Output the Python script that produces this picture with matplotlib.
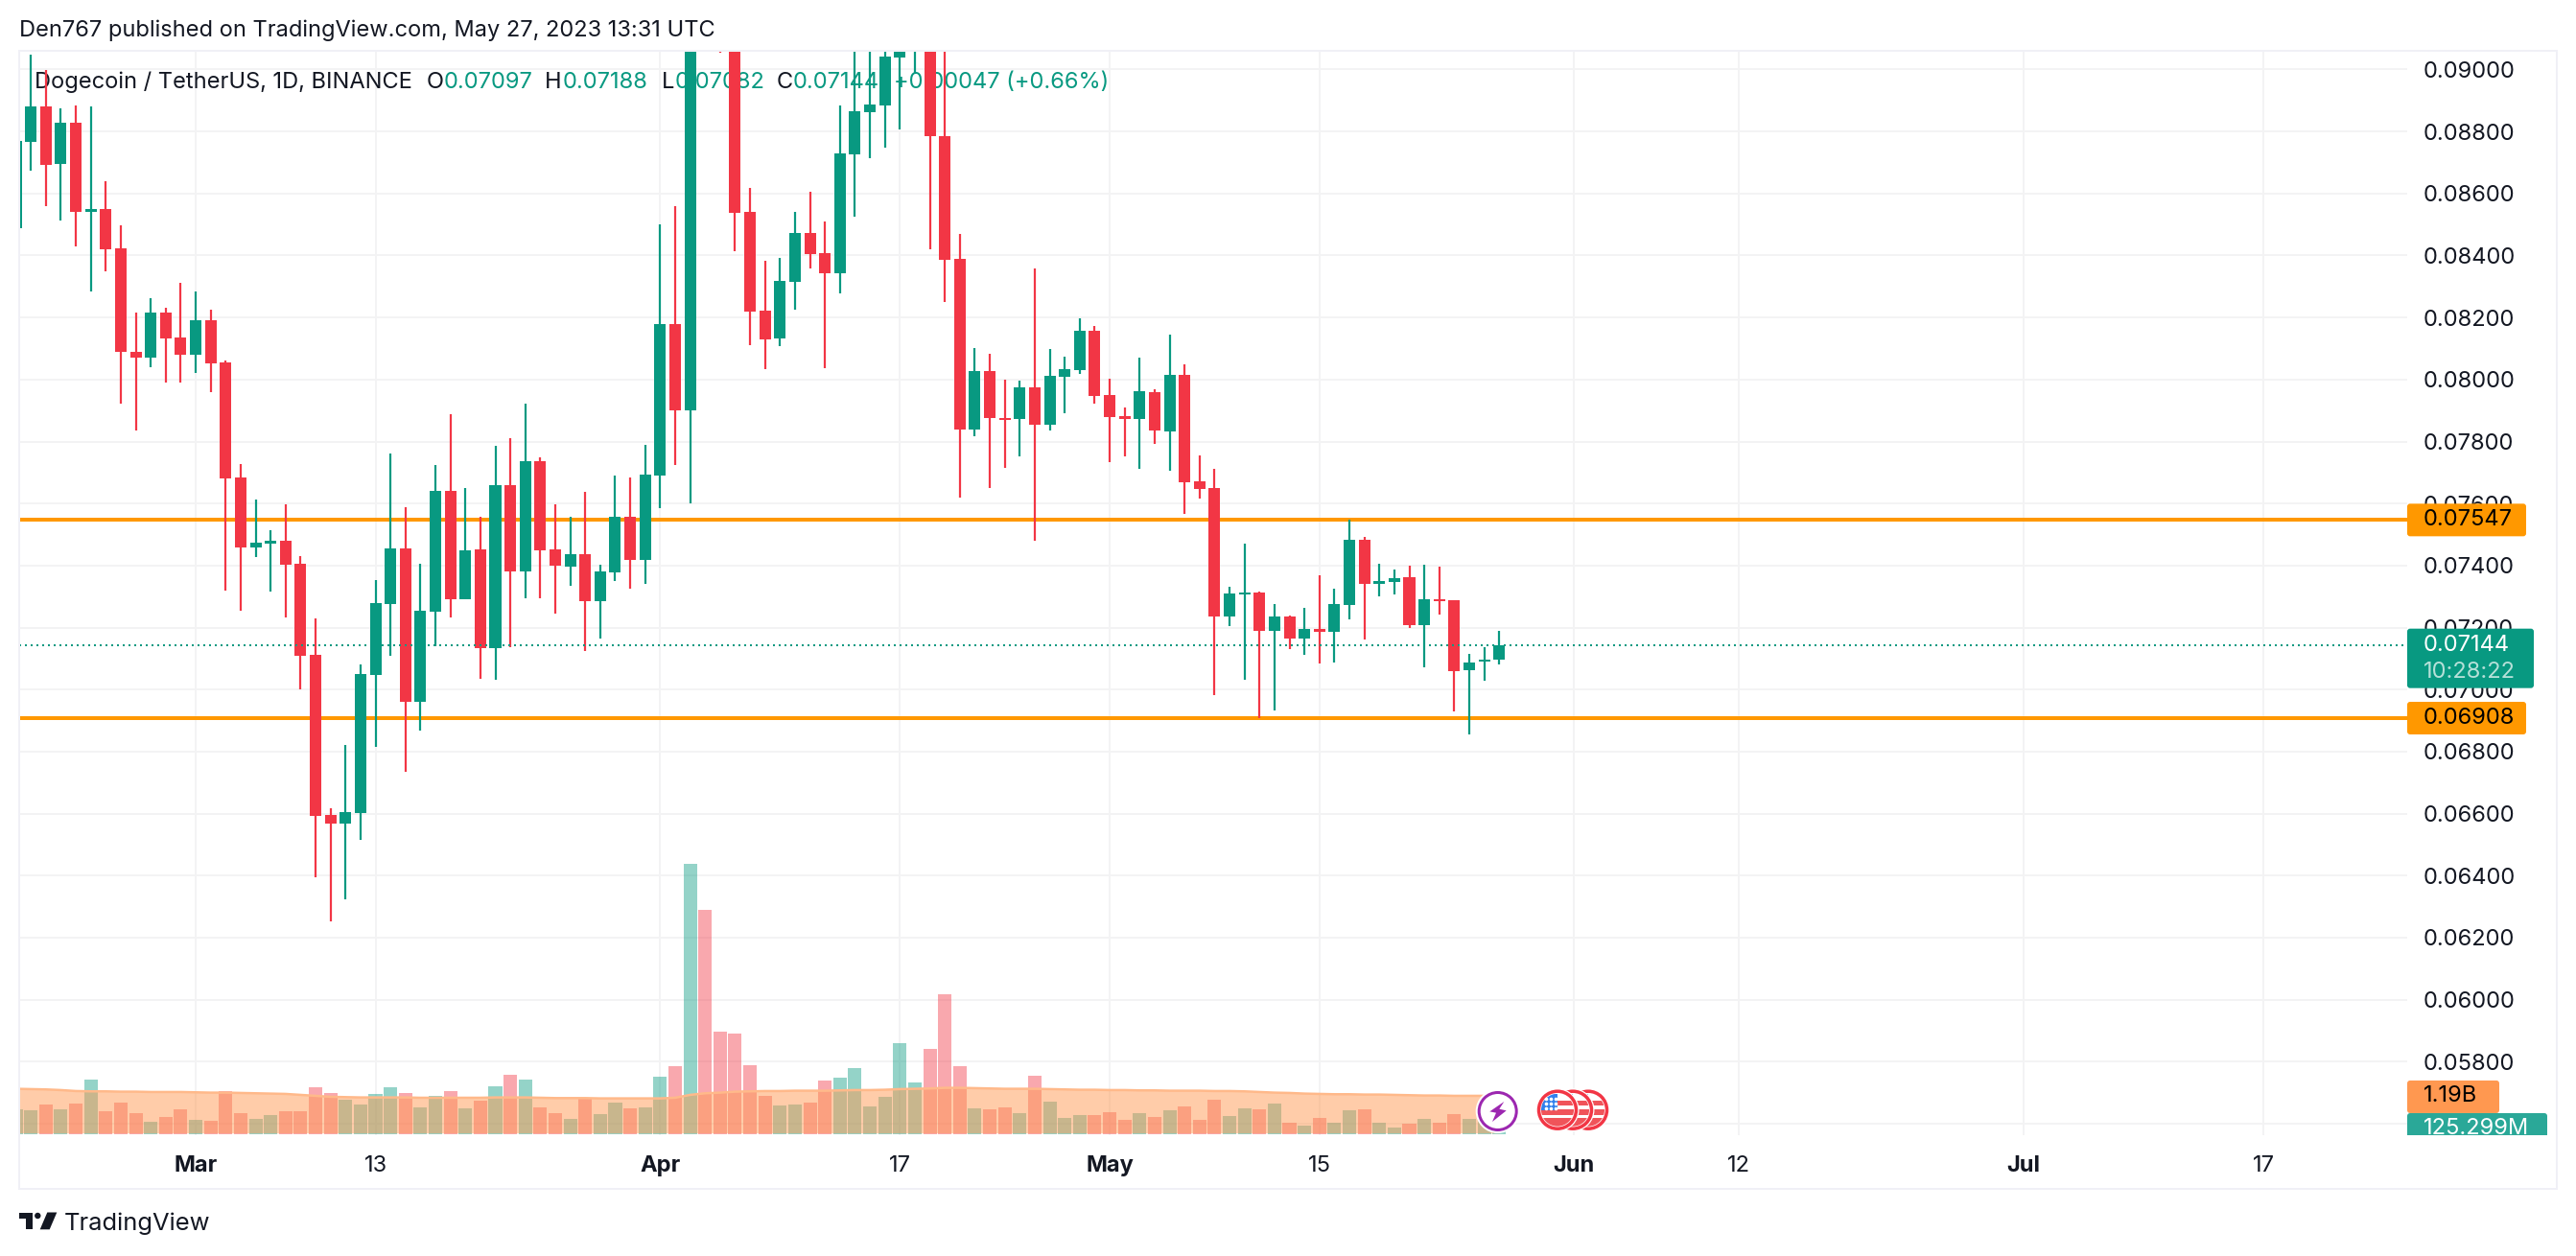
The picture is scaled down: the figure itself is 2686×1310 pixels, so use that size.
import numpy as np
import pandas as pd
import matplotlib
matplotlib.use('Agg')
import matplotlib.pyplot as plt
import matplotlib.dates as mdates
from matplotlib.patches import Circle, FancyBboxPatch, Polygon, Rectangle
from matplotlib.transforms import Affine2D

W, H = 2686, 1310
GREEN = '#089981'
RED = '#F23645'
ORANGE = '#FF9800'
INK = '#131722'
GRID = '#F3F3F4'
BORDER = '#F0F0F6'

plt.rcParams['font.family'] = ['Inter', 'DejaVu Sans']

# daily candles, Feb 17 to May 27 2023
dates = pd.date_range('2023-02-17', '2023-05-27', freq='D')

opens = [
    .08488, .08767, .08881, .08695, .08828, .08541, .08550, .08423, .08089, .08071, .08216, .08136,
    .08080, .08191, .08055, .07684, .07458, .07471, .07480, .07406, .07112, .06596, .06568, .06602,
    .07047, .07276, .07455, .06960, .07251, .07641, .07291, .07452, .07134, .07659, .07381, .07737,
    .07452, .07396, .07437, .07285, .07378, .07557, .07418,
    .07690, .08179, .07900, .09550, .09300, .09180, .08541, .08222, .08132, .08315, .08473, .08408,
    .08343, .08726, .08862, .08884, .09039, .09150, .09250, .08785, .08389, .07839, .08027, .07876,
    .07873, .07975, .07854, .08009, .08030, .08157,
    .07950, .07882, .07873, .07959, .07832, .08015, .07672, .07650, .07236, .07307, .07313, .07189,
    .07236, .07165, .07195, .07186, .07273, .07483, .07341, .07347, .07362, .07208, .07291, .07288,
    .07062, .07090, .07097,
]
highs = [
    .08850, .09048, .08999, .08875, .08884, .08881, .08640, .08497, .08216, .08262, .08231, .08312,
    .08284, .08225, .08061, .07727, .07613, .07514, .07598, .07431, .07229, .06617, .06821, .07081,
    .07353, .07761, .07588, .07406, .07724, .07888, .07650, .07557, .07786, .07811, .07922, .07749,
    .07598, .07557, .07638, .07403, .07690, .07684, .07789,
    .08500, .08559, .09850, .09850, .09450, .09250, .08618, .08383, .08392, .08541, .08606, .08510,
    .08884, .09150, .09120, .09250, .09300, .09350, .09300, .09100, .08469, .08101, .08083, .08000,
    .07996, .08358, .08098, .08074, .08197, .08173,
    .08003, .07910, .08071, .07969, .08145, .08049, .07755, .07712, .07332, .07471, .07316, .07276,
    .07239, .07263, .07369, .07325, .07548, .07492, .07406, .07387, .07400, .07403, .07396, .07288,
    .07115, .07137, .07188,
]
lows = [
    .08400, .08674, .08559, .08513, .08429, .08284, .08349, .07922, .07836, .08040, .07990, .07990,
    .08021, .07959, .07319, .07254, .07427, .07316, .07233, .07001, .06395, .06252, .06323, .06515,
    .06815, .07109, .06735, .06868, .07140, .07233, .07291, .07035, .07031, .07137, .07294, .07294,
    .07245, .07335, .07124, .07165, .07350, .07325, .07341,
    .07585, .07724, .07601, .09120, .09055, .08414, .08111, .08033, .08108, .08225, .08358, .08037,
    .08278, .08525, .08714, .08748, .08807, .08986, .08420, .08250, .07619, .07817, .07650, .07715,
    .07752, .07480, .07836, .07891, .08018, .07922,
    .07734, .07752, .07712, .07792, .07706, .07566, .07616, .06982, .07205, .07031, .06908, .06933,
    .07131, .07112, .07084, .07087, .07226, .07161, .07301, .07307, .07198, .07072, .07242, .06930,
    .06855, .07028, .07082,
]
closes = [
    .08769, .08881, .08692, .08828, .08541, .08550, .08420, .08089, .08071, .08216, .08132, .08080,
    .08191, .08052, .07681, .07458, .07474, .07480, .07403, .07109, .06592, .06568, .06605, .07050,
    .07279, .07455, .06960, .07254, .07641, .07291, .07449, .07134, .07659, .07381, .07737, .07449,
    .07400, .07437, .07285, .07381, .07557, .07418, .07693,
    .08179, .07900, .09550, .09300, .09180, .08538, .08219, .08129, .08318, .08473, .08405, .08343,
    .08729, .08865, .08887, .09042, .09150, .09250, .08785, .08386, .07839, .08027, .07876, .07869,
    .07975, .07854, .08012, .08033, .08157, .07947,
    .07879, .07873, .07962, .07836, .08015, .07669, .07647, .07236, .07310, .07313, .07189, .07236,
    .07165, .07195, .07186, .07276, .07483, .07341, .07350, .07359, .07208, .07291, .07285, .07059,
    .07087, .07097, .07144,
]

# volume in billions
volume = [
    .77, .74, .92, .77, .95, 1.70, .71, .98, .65, .38, .53, .77,
    .44, .41, 1.34, .65, .47, .59, .71, .71, 1.46, 1.28, 1.07, .92, 1.25, 1.46, 1.28, .83, 1.19, 1.34,
    .80, 1.04, 1.49, 1.85, 1.70, .83, .65, .47, 1.10, .62, .98, .80, .83,
    1.79, 2.12, 8.42, 7.01, 3.20, 3.14, 2.15, 1.19, .89, .92, .98, 1.67, 1.76, 2.06, .86, 1.16, 2.84,
    1.61, 2.66, 4.37, 2.12, .80, .77, .83, .65, 1.82, 1.01, .50, .59, .59,
    .68, .44, .65, .53, .74, .86, .44, 1.07, .56, .80, .77, .95, .35, .26, .50, .35, .74, .77, .35,
    .20, .32, .47, .35, .62, .47, .41, .125,
]
volume_ma = [
    1.41, 1.40, 1.39, 1.37, 1.34, 1.33, 1.33, 1.32, 1.32, 1.31, 1.31, 1.31,
    1.30, 1.29, 1.29, 1.28, 1.27, 1.26, 1.25, 1.22, 1.19, 1.16, 1.15, 1.14, 1.14, 1.14, 1.14, 1.13,
    1.13, 1.13, 1.13, 1.13, 1.14, 1.14, 1.14, 1.13, 1.12, 1.12, 1.12, 1.11, 1.11, 1.11, 1.11,
    1.11, 1.13, 1.22, 1.27, 1.29, 1.32, 1.33, 1.34, 1.34, 1.35, 1.35, 1.35, 1.36, 1.37, 1.37, 1.38,
    1.40, 1.41, 1.42, 1.44, 1.44, 1.43, 1.42, 1.41, 1.41, 1.41, 1.40, 1.39, 1.38, 1.38,
    1.37, 1.37, 1.36, 1.36, 1.35, 1.35, 1.35, 1.34, 1.34, 1.33, 1.31, 1.29, 1.28, 1.26, 1.25, 1.24,
    1.24, 1.23, 1.23, 1.22, 1.21, 1.20, 1.20, 1.19, 1.19, 1.19, 1.19,
]

levels = [0.07547, 0.06908]
last_close = 0.07144

y_ticks = [0.056, 0.058, 0.060, 0.062, 0.064, 0.066, 0.068, 0.070, 0.072, 0.074, 0.076, 0.078,
           0.080, 0.082, 0.084, 0.086, 0.088, 0.090]
x_tick_dates = ['2023-03-01', '2023-03-13', '2023-04-01', '2023-04-17', '2023-05-01', '2023-05-15',
                '2023-06-01', '2023-06-12', '2023-07-01', '2023-07-17']
x_tick_labels = ['Mar', '13', 'Apr', '17', 'May', '15', 'Jun', '12', 'Jul', '17']
bold_labels = ['Mar', 'Apr', 'May', 'Jun', 'Jul']

fig = plt.figure(figsize=(W / 100, H / 100), dpi=100)
px = 0.72  # one pixel in points

pane_l, pane_r, pane_t, pane_b = 20, 2510, 53, 1184
rect = [pane_l / W, 1 - pane_b / H, (pane_r - pane_l) / W, (pane_b - pane_t) / H]

ax = fig.add_axes(rect)
ax_vol = fig.add_axes(rect, sharex=ax)
ax_vol.patch.set_visible(False)
ax_vol.axis('off')

x = mdates.date2num(dates)
o, h, l, c = map(np.array, (opens, highs, lows, closes))
colors = [GREEN if a >= b else RED for a, b in zip(c, o)]

ax.axhline(levels[0], color=ORANGE, lw=4 * px, zorder=2)
ax.axhline(levels[1], color=ORANGE, lw=4 * px, zorder=2)

ax.vlines(x, l, h, colors=colors, lw=2.2 * px, zorder=3)
ax.bar(x, np.abs(c - o), bottom=np.minimum(o, c), width=0.77, color=colors, lw=0, zorder=3)

ax.axhline(last_close, color=GREEN, lw=2 * px, ls=(0, (1, 2)), zorder=4)

mar1 = mdates.date2num(pd.Timestamp('2023-03-01'))
ax.set_xlim(mar1 - 11.78, mar1 + 147.6)
ax.set_ylim(0.05563, 0.09060)

ax.set_axisbelow(True)
ax.grid(True, color=GRID, lw=2 * px, zorder=0)
for s in ax.spines.values():
    s.set_visible(False)

ax.yaxis.tick_right()
ax.set_yticks(y_ticks)
ax.set_yticklabels(['%.5f' % t for t in y_ticks])
ax.tick_params(axis='y', length=0, pad=17 * px, labelsize=17, labelcolor=INK)

ax.set_xticks(mdates.date2num(pd.to_datetime(x_tick_dates)))
ax.set_xticklabels(x_tick_labels)
ax.tick_params(axis='x', length=0, pad=21 * px, labelsize=17, labelcolor=INK)
for t in ax.get_xticklabels():
    if t.get_text() in bold_labels:
        t.set_fontweight('bold')

# volume pane, 33.4 px per billion with the baseline just above the pane bottom
ax_vol.set_ylim(-0.039, 33.82)
ax_vol.bar(x, volume, width=0.9, color=colors, alpha=0.43, lw=0)
ax_vol.fill_between(x, 0.03, volume_ma, color='#FF9850', alpha=0.49, lw=0)
ax_vol.plot(x, volume_ma, color='#FFB98A', lw=2.5 * px)

# legend sits under the candles
to_px = Affine2D().scale(1, -1).translate(0, H)
def legend_text(xp, s, color=INK):
    ax.text(xp, 86, s, transform=to_px, color=color, fontsize=17, va='center', ha='left',
            zorder=1, clip_on=False)

legend_text(36, 'Dogecoin / TetherUS, 1D, BINANCE')
legend_text(445, 'O')
legend_text(463, '0.07097', GREEN)
legend_text(568, 'H')
legend_text(587, '0.07188', GREEN)
legend_text(690, 'L')
legend_text(704, '0.07082', GREEN)
legend_text(810, 'C')
legend_text(827, '0.07144', GREEN)
legend_text(932, '+0.00047 (+0.66%)', GREEN)

# overlay in pixels for tags, frame and badges
ov = fig.add_axes([0, 0, 1, 1], zorder=10)
ov.set_xlim(0, W)
ov.set_ylim(H, 0)
ov.axis('off')
ov.patch.set_visible(False)

ov.add_patch(Rectangle((20, 53), 2646, 1187, fill=False, ec=BORDER, lw=2 * px))

ov.text(20, 32, 'Den767 published on TradingView.com, May 27, 2023 13:31 UTC', color=INK,
        fontsize=17, va='center', ha='left')

def py(axes, value):
    return H - axes.transData.transform((0, value))[1]

def tag(y0, y1, right, color, clip=None):
    p = FancyBboxPatch((pane_r, y0), right - pane_r, y1 - y0, boxstyle='round,pad=0,rounding_size=3',
                       fc=color, ec='none')
    ov.add_patch(p)
    return p

def tag_text(yc, s, color, clip=None):
    t = ov.text(2527, yc, s, color=color, fontsize=17, va='center', ha='left')
    if clip is not None:
        t.set_clip_path(clip)
        t.set_clip_on(True)
    return t

for level in levels:
    yc = py(ax, level)
    tag(yc - 17, yc + 17, 2634, ORANGE)
    tag_text(yc, '%.5f' % level, '#000000')

yc = py(ax, last_close)
tag(yc - 17, yc + 45, 2642, GREEN)
tag_text(yc, '%.5f' % last_close, '#FFFFFF')
tag_text(yc + 28, '10:28:22', '#B5E0D8')

ma_y = py(ax_vol, volume_ma[-1])
tag(ma_y - 16, ma_y + 18, 2606, '#FF9850')
tag_text(ma_y, '1.19B', '#000000')
clip_rect = Rectangle((pane_r, 1161), 146, 23, transform=ov.transData)
tag(1161, 1190, 2656, '#2AA898').set_clip_path(clip_rect)
tag_text(1177, '125.299M', '#FFFFFF', clip=clip_rect)

# purple news badge
ov.add_patch(Circle((1561.7, 1159), 23, fc='white', ec='none'))
ov.add_patch(Circle((1561.7, 1159), 19.5, fc='white', ec='#9C27B0', lw=3 * px))
bolt = np.array([[115, 72], [70, 103], [90, 107], [78, 135], [122, 100], [100, 95]]) / 3 + [1530, 1125]
ov.add_patch(Polygon(bolt, fc='#9C27B0', ec='none'))

# US event badges, back to front
for cx in (1656, 1640, 1624):
    cy = 1157.7
    ov.add_patch(Circle((cx, cy), 22.5, fc='white', ec='none'))
    inner = Circle((cx, cy), 17, transform=ov.transData)
    for y0, hh in ((-10, 5), (-1, 6), (8, 10)):
        r = Rectangle((cx - 17, cy + y0), 34, hh, fc='#F0545A', ec='none')
        ov.add_patch(r)
        r.set_clip_path(inner)
    r = Rectangle((cx - 17, cy - 17), 17, 17, fc='#2F80ED', ec='none')
    ov.add_patch(r)
    r.set_clip_path(inner)
    ov.add_patch(Circle((cx, cy), 19.5, fc='none', ec=RED, lw=3.5 * px))
sx, sy = np.meshgrid([1612, 1617, 1622], [1146, 1151, 1156])
ov.scatter(sx.ravel(), sy.ravel(), s=7, c='white', lw=0, zorder=5)

# TradingView mark and name
ov.add_patch(Polygon([[20, 1265], [33.5, 1265], [33.5, 1282], [26.7, 1282], [26.7, 1271], [20, 1271]],
                     fc=INK, ec='none'))
ov.add_patch(Circle((39.3, 1268), 3.2, fc=INK, ec='none'))
ov.add_patch(Polygon([[49.3, 1264.5], [59.3, 1264.5], [51.7, 1282.3], [41.7, 1282.3]], fc=INK, ec='none'))
ov.text(67, 1276.5, 'TradingView', color=INK, fontsize=18.4, va='center', ha='left')

fig.savefig('out.png', dpi=100)
